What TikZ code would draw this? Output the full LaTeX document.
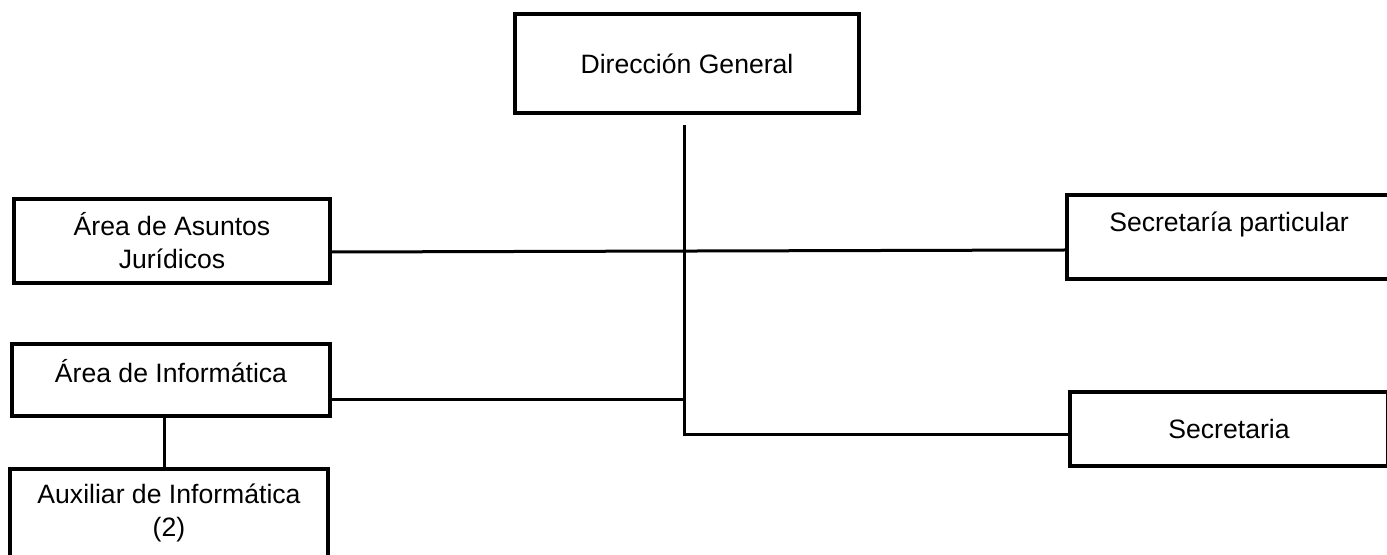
\documentclass[tikz,border=0pt]{standalone}
\usepackage{fontspec}
\setmainfont{Liberation Sans}
\usetikzlibrary{positioning}

\begin{document}
\begin{tikzpicture}[
        x=0.5pt, y=-0.5pt,
        unit/.style={
            rectangle,
            draw=black,
            line width=2pt,
            align=center,
            inner sep=0pt,
            font=\fontsize{13.3}{16.5}\selectfont
        },
        link/.style={
            draw=black,
            line width=1.5pt
        }
    ]
        \useasboundingbox (0,0) rectangle (1387,555);
        \clip (0,0) rectangle (1387,555);

        % Top
        \node[unit, minimum width=172pt, minimum height=49.5pt] (dg) at (687, 63.5) {Dirección General};

        % Left column
        \node[unit, minimum width=158pt, minimum height=42pt] (jur) at (172, 241) {Área de Asuntos\\Jurídicos};
        \node[unit, minimum width=159pt, minimum height=36pt] (inf) at (171, 380) {\raisebox{9pt}{Área de Informática}};
        \node[unit, minimum width=159pt, minimum height=44pt] (aux) at (169, 513) {Auxiliar de Informática\\(2)};

        % Right column
        \node[unit, minimum width=162pt, minimum height=42pt] (secp) at (1229, 237) {\raisebox{15pt}{Secretaría particular}};
        \node[unit, minimum width=159pt, minimum height=37pt] (sec) at (1229, 429) {Secretaria};

        % Trunk
        \coordinate (top) at (684, 125);
        \coordinate (bend) at (684, 435);
        \coordinate (infout) at ([yshift=-10pt]inf.east);

        \draw[link] (top) -- (bend) -- (bend -| sec.west);
        \draw[link] ([yshift=-5.5pt]jur.east) -- ([yshift=-6.5pt]secp.west);
        \draw[link] (infout) -- (infout -| top);
        \draw[link] ([xshift=-3.5pt]inf.south) -- ([xshift=-3.5pt]inf.south |- aux.north);
    \end{tikzpicture}
\end{document}
